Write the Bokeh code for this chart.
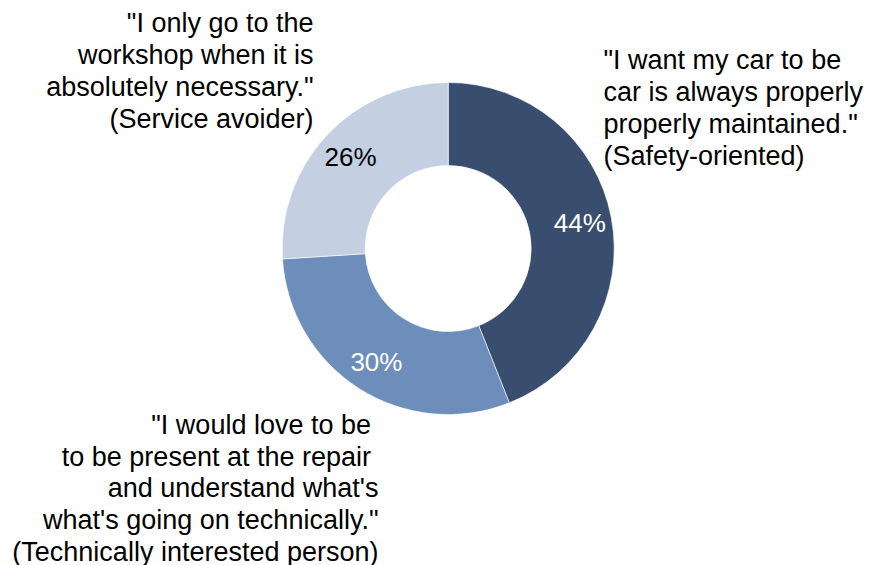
import math
from bokeh.plotting import figure
from bokeh.models import Range1d, ColumnDataSource
from bokeh.core.properties import value
from bokeh.embed import file_html
from bokeh.resources import INLINE

# ---- data ----
segments = ["Safety-oriented", "Technically interested person", "Service avoider"]
shares = [44, 30, 26]
pct_labels = ["44%", "30%", "26%"]
colors = ["#394e6e", "#6d8dba", "#c4cfe2"]
pct_colors = ["#ffffff", "#ffffff", "#000000"]

label_safety = ["\"I want my car to be", "car is always properly",
                "properly maintained.\"", "(Safety-oriented)"]
label_avoider = ["\"I only go to the", "workshop when it is",
                 "absolutely necessary.\"", "(Service avoider)"]
label_tech = ["\"I would love to be ", "to be present at the repair ",
              "and understand what's", "what's going on technically.\"",
              "(Technically interested person)"]

# ---- layout ----
W, H = 871, 565
CX, CY = 447.7, 248.0      # pixel coords (y from top)
R_OUT, R_IN, R_LAB = 166, 83, 134
FONT = "Liberation Sans"
FS = "27px"
MID_OFF = 9.4

p = figure(width=W, height=H, x_range=Range1d(0, W), y_range=Range1d(0, H),
           output_backend="svg", toolbar_location=None, min_border=0,
           background_fill_color="white", border_fill_color="white")
p.axis.visible = False
p.grid.visible = False
p.outline_line_color = None

total = sum(shares)
starts, ends, lx, ly = [], [], [], []
cum = 0.0
for v in shares:
    a0 = math.pi / 2 - 2 * math.pi * cum / total
    a1 = math.pi / 2 - 2 * math.pi * (cum + v) / total
    starts.append(a1)
    ends.append(a0)
    mid = math.pi / 2 - 2 * math.pi * (cum + v / 2) / total
    lx.append(CX + R_LAB * math.cos(mid))
    ly.append((H - CY) + R_LAB * math.sin(mid))
    cum += v

src = ColumnDataSource(dict(start=starts, end=ends, color=colors,
                            lx=lx, ly=ly, lab=pct_labels, lc=pct_colors))
p.annular_wedge(x=CX, y=H - CY, inner_radius=R_IN, outer_radius=R_OUT,
                start_angle="start", end_angle="end", direction="anticlock",
                fill_color="color", line_color="white", line_width=0.6,
                source=src)
p.text(x="lx", y="ly", text="lab", text_color="lc", source=src,
       text_font=value(FONT), text_font_size="26px",
       text_align="center", text_baseline="middle")


def block(lines, x, y_first_baseline, lh, align):
    ys = [H - (y_first_baseline + i * lh - MID_OFF) for i in range(len(lines))]
    p.text(x=[x] * len(lines), y=ys, text=lines,
           text_font=value(FONT), text_font_size=FS, text_color="#000000",
           text_align=align, text_baseline="middle")


block(label_avoider, 313, 32, 32, "right")
block(label_safety, 603, 69, 32, "left")
block(label_tech, 378, 434, 31.6, "right")

open("out.html", "w").write(file_html(p, INLINE))
